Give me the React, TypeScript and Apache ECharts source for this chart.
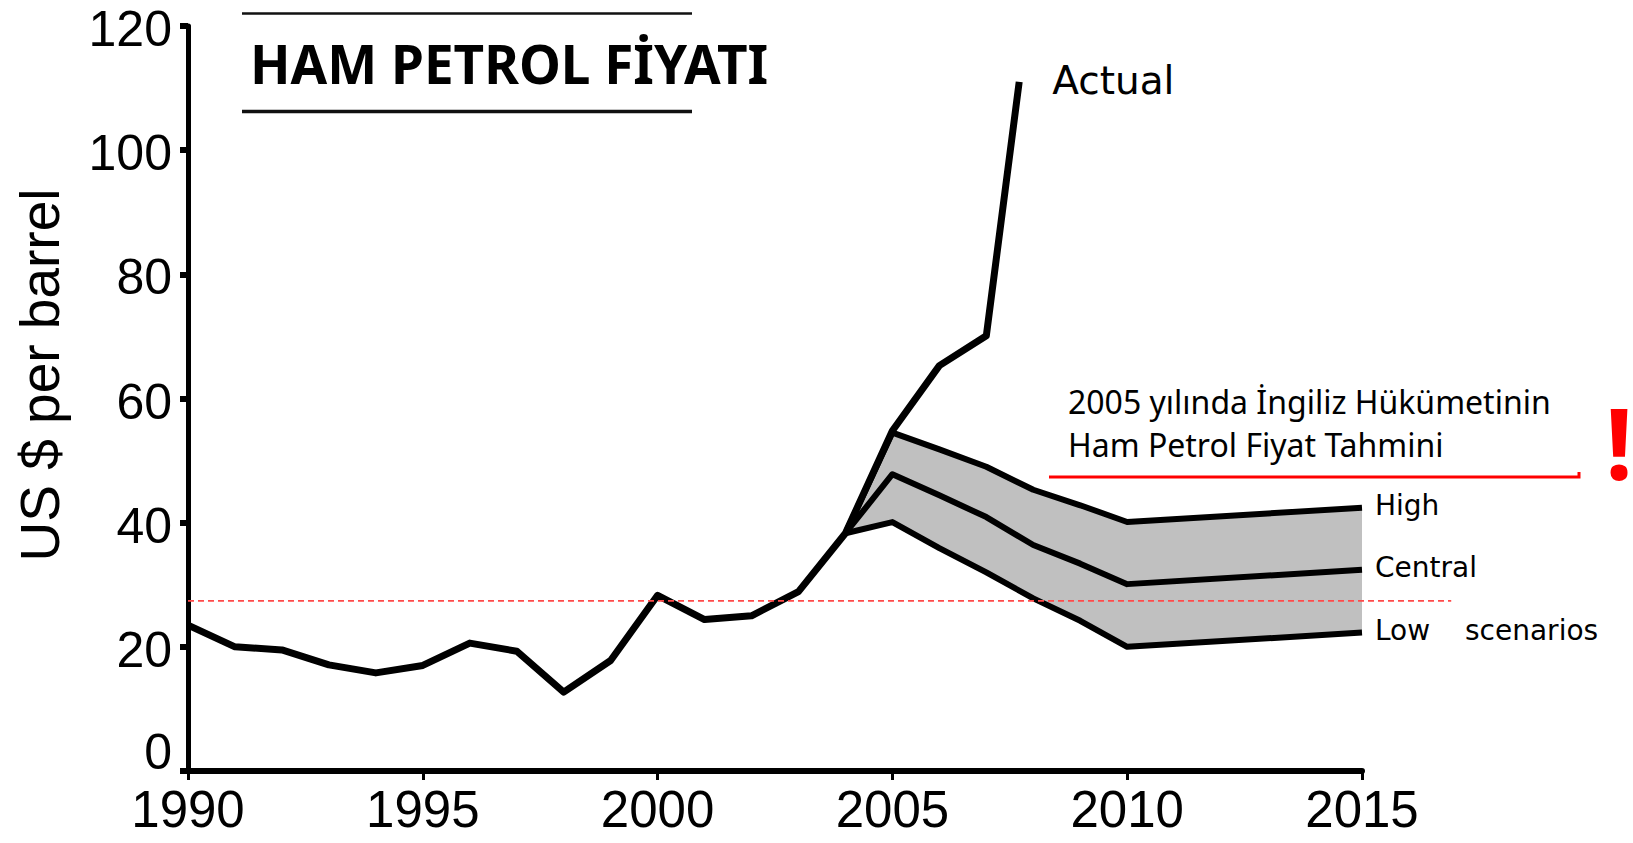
import React, { useEffect, useRef } from "react";
import * as echarts from "echarts";

// ---- data ----
const actualYears = [1990, 1991, 1992, 1993, 1994, 1995, 1996, 1997, 1998, 1999, 2000, 2001, 2002, 2003, 2004, 2005, 2006, 2007, 2007.7];
const actualValues = [23.5, 20.0, 19.5, 17.1, 15.8, 17.0, 20.6, 19.3, 12.7, 17.8, 28.3, 24.4, 25.0, 28.9, 38.3, 54.8, 65.3, 70.1, 111.0];

const forecastYears = [2004, 2005, 2006, 2007, 2008, 2009, 2010, 2015];
const highValues = [38.3, 54.5, 51.8, 49.0, 45.3, 42.8, 40.1, 42.4];
const centralValues = [38.3, 47.8, 44.4, 40.9, 36.4, 33.4, 30.1, 32.4];
const lowValues = [38.3, 40.1, 35.9, 32.0, 27.8, 24.2, 20.0, 22.3];

const xTickMin = 1990;
const xTickMax = 2015;
const xTickStep = 5;
const yTickMin = 0;
const yTickMax = 120;
const yTickStep = 20;

const referenceLevel = 27.4;
const referenceEndYear = 2016.9;

const titleText = "HAM PETROL FİYATI";
const yAxisTitle = "US $ per barrel";
const noteLines = ["2005 yılında İngiliz Hükümetinin", "Ham Petrol Fiyat Tahmini"];
const actualLabel = "Actual";
const scenarioLabels = ["High", "Central", "Low"];
const scenariosWord = "scenarios";

export default function App() {
  const ref = useRef<HTMLDivElement>(null);

  useEffect(() => {
    if (!ref.current) return;
    const chart = echarts.init(ref.current, null, { renderer: "svg" });
    const pair = (xs: number[], ys: number[]) => xs.map((x, i) => [x, ys[i]]);
    const axisFont = "'Liberation Sans', Arial, Helvetica, sans-serif";
    const labelFont = "'DejaVu Sans', Verdana, sans-serif";
    const noteFont = "'Noto Sans', 'Open Sans', sans-serif";

    chart.setOption({
      animation: false,
      backgroundColor: "#ffffff",
      grid: { left: 188, right: 271, top: 26, bottom: 72, containLabel: false, outerBoundsMode: "none" },
      xAxis: {
        type: "value",
        min: xTickMin,
        max: xTickMax,
        interval: xTickStep,
        axisLine: { show: true, lineStyle: { color: "#000", width: 6 } },
        axisTick: { show: true, inside: false, length: 9, lineStyle: { color: "#000", width: 3 } },
        axisLabel: { fontSize: 51, lineHeight: 44, color: "#000", fontFamily: axisFont, margin: 16, formatter: (v: number) => String(v) },
        splitLine: { show: false },
      },
      yAxis: {
        type: "value",
        min: yTickMin,
        max: yTickMax,
        interval: yTickStep,
        axisLine: { show: true, lineStyle: { color: "#000", width: 5 } },
        axisTick: { show: true, inside: false, length: 8, lineStyle: { color: "#000", width: 6 } },
        axisLabel: {
          fontSize: 50,
          lineHeight: 40,
          color: "#000",
          fontFamily: axisFont,
          margin: 16,
          formatter: (v: number) => (v === 0 ? "{z|0}" : "{n|" + v + "}"),
          rich: {
            n: { fontSize: 50, lineHeight: 40, fontFamily: axisFont, color: "#000", padding: [6, 0, 0, 0] },
            z: { fontSize: 50, lineHeight: 40, fontFamily: axisFont, color: "#000", padding: [0, 0, 38, 0] },
          },
        },
        splitLine: { show: false },
      },
      series: [
        {
          type: "custom",
          name: "band",
          silent: true,
          z: 1,
          data: forecastYears.map((y, i) => [y, lowValues[i], highValues[i]]),
          encode: { x: 0, y: [1, 2] },
          renderItem: (params: any, api: any) => {
            if (params.dataIndex !== 0) return null;
            const upper = forecastYears.map((y, i) => api.coord([y, highValues[i]]));
            const lower = forecastYears.map((y, i) => api.coord([y, lowValues[i]])).reverse();
            return {
              type: "polygon",
              shape: { points: [...upper, ...lower] },
              style: { fill: "#c0c0c0", stroke: "none" },
            };
          },
        },
        ...[
          { name: "High", vals: highValues },
          { name: "Central", vals: centralValues },
          { name: "Low", vals: lowValues },
        ].map((s) => ({
          type: "line",
          name: s.name,
          data: pair(forecastYears, s.vals),
          symbol: "none",
          z: 3,
          silent: true,
          lineStyle: { color: "#000", width: 6, join: "round", cap: "butt" },
        })),
        {
          type: "line",
          name: "Actual",
          data: pair(actualYears, actualValues),
          symbol: "none",
          z: 4,
          silent: true,
          lineStyle: { color: "#000", width: 7, join: "round", cap: "butt" },
        },
      ],
    });

    const px = (x: number, y: number) => chart.convertToPixel({ gridIndex: 0 }, [x, y]) as number[];
    const refStart = px(xTickMin, referenceLevel);
    const refEnd = px(referenceEndYear, referenceLevel);
    const actualEnd = px(actualYears[actualYears.length - 1], actualValues[actualValues.length - 1]);
    const lastIdx = forecastYears.length - 1;
    const ends = [highValues, centralValues, lowValues].map((v) => px(forecastYears[lastIdx], v[lastIdx]));

    const graphics: any[] = [
      // title
      { type: "line", shape: { x1: 242, y1: 13.5, x2: 692, y2: 13.5 }, style: { stroke: "#111", lineWidth: 2.5 } },
      { type: "line", shape: { x1: 242, y1: 111.5, x2: 692, y2: 111.5 }, style: { stroke: "#111", lineWidth: 3.5 } },
      {
        type: "text",
        x: 250,
        y: 63,
        style: { text: titleText, fontSize: 53, fontWeight: "bold", fontFamily: noteFont, fill: "#000", align: "left", verticalAlign: "middle" },
      },
      // y axis title
      {
        type: "text",
        x: 40,
        y: 375,
        rotation: Math.PI / 2,
        style: { text: yAxisTitle, fontSize: 55, fontFamily: axisFont, fill: "#000", align: "center", verticalAlign: "middle" },
      },
      // reference dashed line
      {
        type: "line",
        z: 100,
        shape: { x1: refStart[0], y1: refStart[1], x2: refEnd[0], y2: refEnd[1] },
        style: { stroke: "#ff4a4a", lineWidth: 1.6, lineDash: [6, 4] },
      },
      // labels
      {
        type: "text",
        z: 100,
        x: actualEnd[0] + 33,
        y: actualEnd[1] - 1.5,
        style: { text: actualLabel, fontSize: 39, fontFamily: labelFont, fill: "#000", align: "left", verticalAlign: "middle" },
      },
      ...scenarioLabels.map((t, i) => ({
        type: "text",
        z: 100,
        x: ends[i][0] + 13,
        y: ends[i][1] - 2.5,
        style: { text: t, fontSize: 28, fontFamily: labelFont, fill: "#000", align: "left", verticalAlign: "middle" },
      })),
      {
        type: "text",
        z: 100,
        x: ends[2][0] + 103,
        y: ends[2][1] - 2.5,
        style: { text: scenariosWord, fontSize: 28, fontFamily: labelFont, fill: "#000", align: "left", verticalAlign: "middle" },
      },
      // note
      ...noteLines.map((t, i) => ({
        type: "text",
        z: 100,
        x: 1068,
        y: 401 + i * 43,
        style: { text: t, fontSize: 32, fontFamily: noteFont, fill: "#000", align: "left", verticalAlign: "middle" },
      })),
      {
        type: "polyline",
        z: 100,
        shape: { points: [[1049, 477], [1579, 477], [1579, 472]] },
        style: { stroke: "#ff0000", lineWidth: 3, fill: "none" },
      },
      {
        type: "text",
        z: 100,
        x: 1619,
        y: 442,
        style: { text: "!", fontSize: 98, fontWeight: "bold", fontFamily: noteFont, fill: "#ff0000", align: "center", verticalAlign: "middle" },
      },
    ];

    chart.setOption({ graphic: graphics });

    return () => {
      chart.dispose();
    };
  }, []);

  return (
    <div
      ref={ref}
      style={{ position: "fixed", left: 0, top: 0, width: "1633px", height: "843px", background: "#fff" }}
    />
  );
}
